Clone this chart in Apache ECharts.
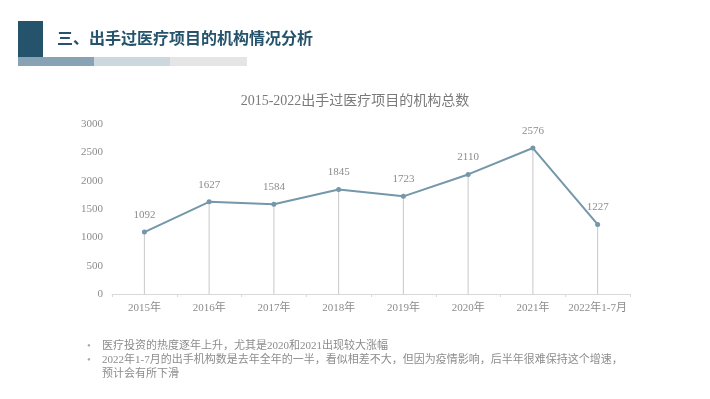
<!DOCTYPE html>
<html>
<head>
<meta charset="utf-8">
<script src="https://cdn.jsdelivr.net/npm/echarts@6/dist/echarts.min.js"></script>
<style>
  html, body { margin: 0; padding: 0; background: #fff; }
  #chart { width: 710px; height: 399px; }
</style>
</head>
<body>
<div id="chart"></div>
<script>
var years = ['2015年', '2016年', '2017年', '2018年', '2019年', '2020年', '2021年', '2022年1-7月'];
var orgCount = [1092, 1627, 1584, 1845, 1723, 2110, 2576, 1227];
var yTicks = [0, 500, 1000, 1500, 2000, 2500, 3000];

var pageTitle = '三、出手过医疗项目的机构情况分析';
var chartTitle = '2015-2022出手过医疗项目的机构总数';
var notes = [
  '医疗投资的热度逐年上升，尤其是2020和2021出现较大涨幅',
  '2022年1-7月的出手机构数是去年全年的一半，看似相差不大，但因为疫情影响，后半年很难保持这个增速，',
  '预计会有所下滑'
];

var serif = '"Liberation Serif", "DejaVu Serif", "Noto Sans CJK SC", serif';
var grayText = '#8c8c8c';
var lineColor = '#7497aa';

var myChart = echarts.init(document.getElementById('chart'));

var option = {
  backgroundColor: '#fff',
  animation: false,
  title: {
    text: chartTitle,
    left: 'center',
    top: 89,
    textStyle: { color: '#7a7a7a', fontSize: 14, fontWeight: 'normal', fontFamily: serif }
  },
  grid: { left: 112, right: 80, top: 124, bottom: 105 },
  xAxis: {
    type: 'category',
    data: years,
    boundaryGap: true,
    axisLine: { lineStyle: { color: '#d9d9d9' } },
    axisTick: { show: true, length: 3, lineStyle: { color: '#d9d9d9' } },
    axisLabel: { interval: 0, color: grayText, fontSize: 11, fontFamily: serif, margin: 9 }
  },
  yAxis: {
    type: 'value',
    min: yTicks[0],
    max: yTicks[yTicks.length - 1],
    interval: 500,
    axisLine: { show: false },
    axisTick: { show: false },
    splitLine: { show: false },
    axisLabel: {
      color: grayText, fontSize: 11, fontFamily: serif, margin: 9,
      formatter: function (v) { return String(v); }
    }
  },
  series: [
    {
      // 垂直线
      type: 'bar',
      data: orgCount,
      barWidth: 1,
      itemStyle: { color: '#c8c8c8' },
      silent: true,
      z: 1
    },
    {
      type: 'line',
      data: orgCount,
      symbol: 'circle',
      symbolSize: 5,
      lineStyle: { color: lineColor, width: 2 },
      itemStyle: { color: lineColor },
      label: {
        show: true,
        position: 'top',
        distance: 9,
        color: grayText,
        fontSize: 11,
        fontFamily: serif
      },
      z: 3
    }
  ],
  graphic: [
    { type: 'rect', shape: { x: 18, y: 21, width: 25, height: 36 }, style: { fill: '#24536b' } },
    { type: 'rect', shape: { x: 18, y: 57, width: 76, height: 9 }, style: { fill: '#86a2b4' } },
    { type: 'rect', shape: { x: 94, y: 57, width: 76, height: 9 }, style: { fill: '#ccd7de' } },
    { type: 'rect', shape: { x: 170, y: 57, width: 77, height: 9 }, style: { fill: '#e5e5e5' } },
    {
      type: 'text', left: 57, top: 30,
      style: { text: pageTitle, fill: '#24536b', font: 'bold 16px "Noto Sans CJK SC", sans-serif' }
    },
    { type: 'text', left: 87, top: 341, style: { text: '•', fill: '#aaaaaa', font: '11px ' + serif } },
    { type: 'text', left: 87, top: 355, style: { text: '•', fill: '#aaaaaa', font: '11px ' + serif } },
    { type: 'text', left: 102, top: 341, style: { text: notes[0], fill: grayText, font: '11px ' + serif } },
    { type: 'text', left: 102, top: 355, style: { text: notes[1], fill: grayText, font: '11px ' + serif } },
    { type: 'text', left: 102, top: 369, style: { text: notes[2], fill: grayText, font: '11px ' + serif } }
  ]
};

myChart.setOption(option);
</script>
</body>
</html>
